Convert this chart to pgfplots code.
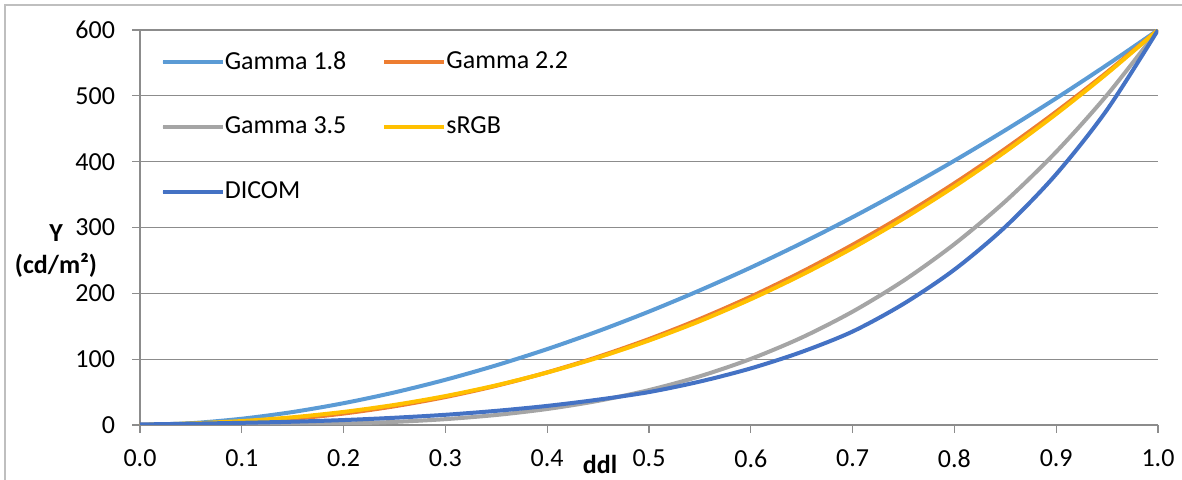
\documentclass[border=0pt]{standalone}
\usepackage{pgfplots}
\pgfplotsset{compat=1.18}
\usepackage{fontspec}
\setmainfont{Carlito}
\definecolor{cG18}{HTML}{5B9BD5}
\definecolor{cG22}{HTML}{ED7D31}
\definecolor{cG35}{HTML}{A5A5A5}
\definecolor{cSRGB}{HTML}{FFC000}
\definecolor{cDICOM}{HTML}{4472C4}
\definecolor{gridc}{HTML}{8C8C8C}
\definecolor{framec}{HTML}{BFBFBF}
\begin{document}
\begin{tikzpicture}
\useasboundingbox (-70pt,-27.5pt) rectangle (521pt,212.5pt);
\begin{axis}[
  at={(0pt,0pt)}, anchor=south west,
  scale only axis, width=509pt, height=197.5pt,
  xmin=0, xmax=1, ymin=0, ymax=600,
  axis x line*=bottom, axis y line*=left,
  axis line style={gridc, line width=0.6pt, -},
  xtick={0,0.1,...,1.0}, ytick={0,100,...,600},
  tick align=outside, major tick length=4pt,
  tick style={gridc, line width=0.6pt},
  ymajorgrids, grid style={gridc, line width=0.6pt},
  xticklabel style={/pgf/number format/fixed, /pgf/number format/fixed zerofill, /pgf/number format/precision=1, /pgf/number format/assume math mode=true, yshift=-5pt},
  yticklabel style={/pgf/number format/assume math mode=true, xshift=-5pt},
  every tick label/.append style={font=\fontsize{13}{15.6}\selectfont, text=black},
  ylabel={Y\\(cd/m²)},
  ylabel style={at={(axis description cs:-0.0825,0.44)}, anchor=center, rotate=-90, align=center, font=\bfseries\fontsize{13}{16}\selectfont},
  xlabel={ddl},
  xlabel style={at={(axis description cs:0.452,-0.101)}, anchor=center, font=\bfseries\fontsize{13}{15.6}\selectfont},
  legend columns=2,
  legend image code/.code={\draw[#1, line cap=round] (1pt,0pt) -- (27.5pt,0pt); \path (0pt,0pt) -- (30pt,0pt);},
  legend style={at={(axis description cs:0.02,0.952)}, anchor=north west, draw=none, fill=none,
    font=\fontsize{13}{15.6}\selectfont, inner sep=0pt, row sep=20.5pt,
    nodes={inner ysep=1pt, inner xsep=0pt, anchor=west},
    /tikz/every even column/.append style={column sep=18pt}},
  every axis plot/.append style={line width=2pt, line join=round, smooth},
]
\addplot[cG18] coordinates {(0,0) (0.05,2.73) (0.1,9.51) (0.15,19.73) (0.2,33.12) (0.25,49.48) (0.3,68.70) (0.35,90.67) (0.4,115.3) (0.45,142.5) (0.5,172.3) (0.55,204.6) (0.6,239.2) (0.65,276.3) (0.7,315.7) (0.75,357.5) (0.8,401.5) (0.85,447.8) (0.9,496.3) (0.95,547.1) (1,600)};
\addlegendentry{Gamma 1.8}
\addplot[cG22] coordinates {(0,0) (0.05,0.82) (0.1,3.79) (0.15,9.24) (0.2,17.39) (0.25,28.42) (0.3,42.44) (0.35,59.58) (0.4,79.93) (0.45,103.6) (0.5,130.6) (0.55,161.1) (0.6,195.0) (0.65,232.6) (0.7,273.8) (0.75,318.6) (0.8,367.2) (0.85,419.6) (0.9,475.9) (0.95,536.0) (1,600)};
\addlegendentry{Gamma 2.2}
\addplot[cG35] coordinates {(0,0) (0.05,0.02) (0.1,0.19) (0.15,0.78) (0.2,2.15) (0.25,4.69) (0.3,8.88) (0.35,15.22) (0.4,24.29) (0.45,36.68) (0.5,53.03) (0.55,74.04) (0.6,100.4) (0.65,132.8) (0.7,172.2) (0.75,219.2) (0.8,274.8) (0.85,339.7) (0.9,415.0) (0.95,501.4) (1,600)};
\addlegendentry{Gamma 3.5}
\addplot[cSRGB] coordinates {(0,0) (0.05,2.36) (0.1,6.01) (0.15,11.77) (0.2,19.86) (0.25,30.53) (0.3,43.94) (0.35,60.29) (0.4,79.72) (0.45,102.4) (0.5,128.4) (0.55,157.9) (0.6,191.1) (0.65,228.0) (0.7,268.8) (0.75,313.5) (0.8,362.3) (0.85,415.2) (0.9,472.4) (0.95,534.0) (1,600)};
\addlegendentry{sRGB}
\addplot[cDICOM] coordinates {(0,0.8) (0.05,2.0) (0.1,3.3) (0.15,5.0) (0.2,7.5) (0.25,11.0) (0.3,15.5) (0.35,21.5) (0.4,29.0) (0.45,38.5) (0.5,50) (0.55,66) (0.6,86) (0.65,111) (0.7,142) (0.75,184) (0.8,236) (0.85,301) (0.9,381) (0.95,479) (1,600)};
\addlegendentry{DICOM}
\end{axis}
\draw[framec, line width=0.7pt] (-67.5pt,-30pt) -- (-67.5pt,210pt) -- (525pt,210pt);
\end{tikzpicture}
\end{document}
